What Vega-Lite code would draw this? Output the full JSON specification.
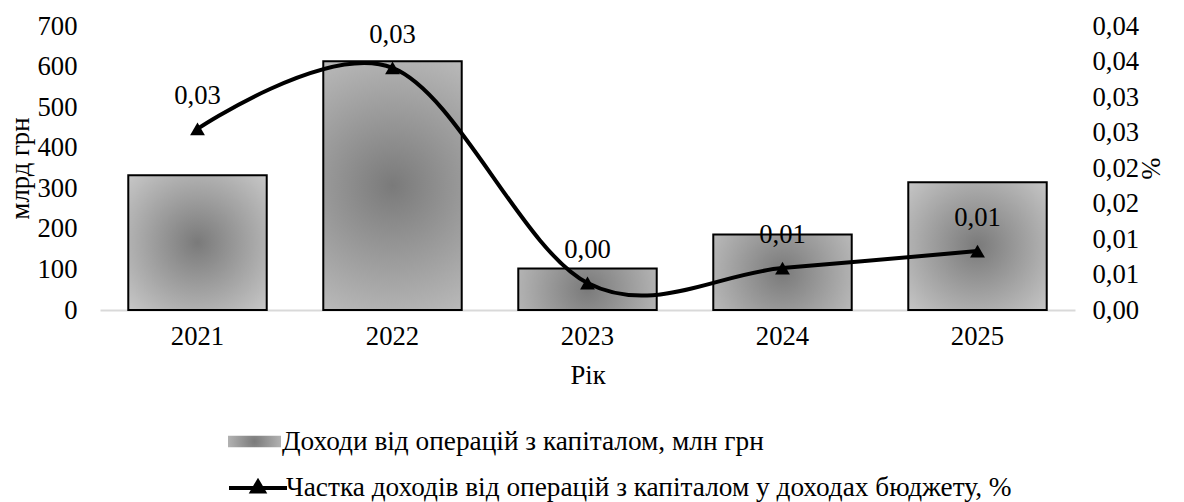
{
  "$schema": "https://vega.github.io/schema/vega-lite/v6.json",
  "width": 975,
  "height": 284,
  "autosize": "none",
  "padding": {"left": 100, "top": 26, "right": 109, "bottom": 192},
  "background": "white",
  "config": {
    "view": {"stroke": null},
    "font": "Liberation Serif, DejaVu Serif",
    "locale": {"number": {"decimal": ",", "thousands": " ", "grouping": [3], "currency": ["", " грн"]}},
    "axis": {
      "labelFont": "Liberation Serif, DejaVu Serif",
      "titleFont": "Liberation Serif, DejaVu Serif",
      "labelColor": "#000000",
      "titleColor": "#000000",
      "labelFontSize": 26.67,
      "titleFontSize": 26.67,
      "titleFontWeight": "normal",
      "grid": false,
      "ticks": false
    },
    "legend": {
      "labelFont": "Liberation Serif, DejaVu Serif",
      "labelFontSize": 27.3,
      "labelColor": "#000000",
      "labelLimit": 0,
      "padding": 0
    }
  },
  "data": {
    "values": [
      {"year": "2021", "income": 332, "share": 0.0255},
      {"year": "2022", "income": 613, "share": 0.0341},
      {"year": "2023", "income": 102, "share": 0.0038},
      {"year": "2024", "income": 186, "share": 0.0059},
      {"year": "2025", "income": 315, "share": 0.0083}
    ]
  },
  "encoding": {
    "x": {
      "field": "year",
      "type": "ordinal",
      "scale": {"paddingInner": 0.29, "paddingOuter": 0.145},
      "axis": {
        "title": "Рік",
        "labelAngle": 0,
        "domainColor": "#d9d9d9",
        "domainWidth": 2,
        "labelPadding": 13,
        "titlePadding": 13
      }
    }
  },
  "layer": [
    {
      "mark": {
        "type": "bar",
        "fill": {
          "gradient": "radial",
          "x1": 0.5, "y1": 0.5, "r1": 0,
          "x2": 0.5, "y2": 0.5, "r2": 0.7,
          "stops": [
            {"offset": 0, "color": "#7a7a7a"},
            {"offset": 1, "color": "#c8c8c8"}
          ]
        }
      },
      "encoding": {
        "y": {
          "field": "income",
          "type": "quantitative",
          "scale": {"domain": [0, 700], "nice": false},
          "axis": {
            "title": "млрд грн",
            "values": [0, 100, 200, 300, 400, 500, 600, 700],
            "domain": false,
            "labelPadding": 23,
            "titlePadding": 3
          }
        },
        "stroke": {"value": "black"},
        "strokeWidth": {"value": 2},
        "opacity": {
          "datum": "Доходи від операцій з капіталом, млн грн",
          "type": "nominal",
          "scale": {"range": [1]},
          "legend": {
            "orient": "none",
            "legendX": 127,
            "legendY": 388,
            "title": null,
            "symbolType": "M-1,-0.22H1V0.22H-1Z",
            "symbolSize": 2809,
            "symbolStrokeColor": "black",
            "symbolStrokeWidth": 2,
            "labelOffset": 0
          }
        }
      }
    },
    {
      "encoding": {
        "y": {
          "field": "share",
          "type": "quantitative",
          "scale": {"domain": [0, 0.04], "nice": false},
          "axis": {
            "orient": "right",
            "title": "%",
            "values": [0, 0.005, 0.01, 0.015, 0.02, 0.025, 0.03, 0.035, 0.04],
            "labelExpr": "replace(format(datum.value + 1e-9, '.2f'), '.', ',')",
            "domain": false,
            "labelPadding": 17,
            "titlePadding": -3
          }
        }
      },
      "layer": [
        {
          "mark": {"type": "line", "interpolate": "cardinal", "strokeWidth": 4},
          "encoding": {
            "stroke": {
              "datum": "Частка доходів від операцій з капіталом у доходах бюджету, %",
              "type": "nominal",
              "scale": {"range": ["black"]},
              "legend": {
                "orient": "none",
                "legendX": 127,
                "legendY": 431,
                "title": null,
                "symbolType": "M-1,0H1M-0.2,0.12L0,-0.22L0.2,0.12Z",
                "symbolSize": 3364,
                "symbolStrokeColor": "black",
                "symbolFillColor": "black",
                "symbolStrokeWidth": 4,
                "labelOffset": -3
              }
            }
          }
        },
        {
          "mark": {"type": "point", "shape": "triangle-up", "filled": true, "color": "black", "size": 220, "opacity": 1}
        },
        {
          "mark": {"type": "text", "dy": -33, "fontSize": 26.67, "font": "Liberation Serif, DejaVu Serif", "color": "black"},
          "encoding": {
            "text": {"field": "share", "type": "quantitative", "format": ".2f"}
          }
        }
      ]
    }
  ],
  "resolve": {"scale": {"y": "independent"}}
}
